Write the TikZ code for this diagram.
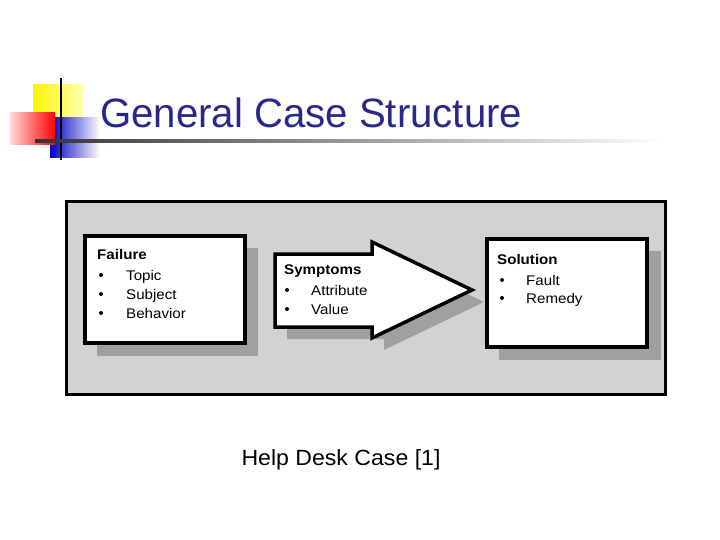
\documentclass[tikz,border=0pt]{standalone}
\usepackage{fontspec}
\setmainfont{Liberation Sans}
\usetikzlibrary{shadings}
\definecolor{titleblue}{RGB}{40,40,140}
\definecolor{panel}{RGB}{210,210,210}
\definecolor{shade}{RGB}{160,160,160}
\begin{document}
\begin{tikzpicture}[x=1pt,y=-1pt,
    box/.style={draw, line width=3.5pt, fill=white},
    shad/.style={fill=shade},
    lbl/.style={anchor=base west, inner sep=0pt, font=\fontsize{14}{16}\selectfont, xscale=1.08},
    head/.style={lbl, font=\fontsize{14}{16}\selectfont\bfseries}
]
\useasboundingbox (0,0) rectangle (720,540);
% logo
\shade[left color=yellow!90!orange, right color=yellow!30] (33,85) rectangle (83,125);
\shade[left color=blue!75!black, right color=white] (50,118) rectangle (100,158);
\shade[left color=red!15, right color=red] (10,113) rectangle (55,145);
\draw[line width=2pt] (61,78) -- (61,160);
\shade[left color=black!80, right color=white] (35,140) rectangle (665,142.5);
\node[anchor=base west, inner sep=0pt, text=titleblue, font=\fontsize{41}{44}\selectfont, xscale=0.98] (title) at (100,128) {General Case Structure};
% panel
\draw[fill=panel, line width=3pt] (66,202) rectangle (665,394);
% shadows
\fill[shad] (97,248) rectangle (258,356);
\fill[shad] (499,251) rectangle (661,360);
\fill[shad] (287,266) -- (384,266) -- (384,254) -- (484,302) -- (384,350) -- (384,339) -- (287,339) -- cycle;
% boxes
\draw[box] (85,236) rectangle (245,343);
\draw[box] (487,239) rectangle (647,347);
\draw[box, line join=miter] (275,254) -- (372,254) -- (372,242) -- (472,290) -- (372,338) -- (372,327) -- (275,327) -- cycle;
% texts
\node[head] (f) at (97,259) {Failure};
\node[lbl] (f1) at (126,280) {Topic};
\node[lbl] (f2) at (126,299) {Subject};
\node[lbl] (f3) at (126,318) {Behavior};
\foreach \y in {275,294,313} \fill (101,\y) circle (2);
\node[head] (s) at (284,274) {Symptoms};
\node[lbl] (s1) at (311,295) {Attribute};
\node[lbl] (s2) at (311,314) {Value};
\foreach \y in {290,309} \fill (287,\y) circle (2);
\node[head] (o) at (497,264) {Solution};
\node[lbl] (o1) at (526,285) {Fault};
\node[lbl] (o2) at (526,303) {Remedy};
\foreach \y in {280,298} \fill (502,\y) circle (2);
\node[anchor=base, inner sep=0pt, font=\fontsize{22}{26}\selectfont, xscale=1.05] (cap) at (341,465) {Help Desk Case [1]};
\end{tikzpicture}
\end{document}
